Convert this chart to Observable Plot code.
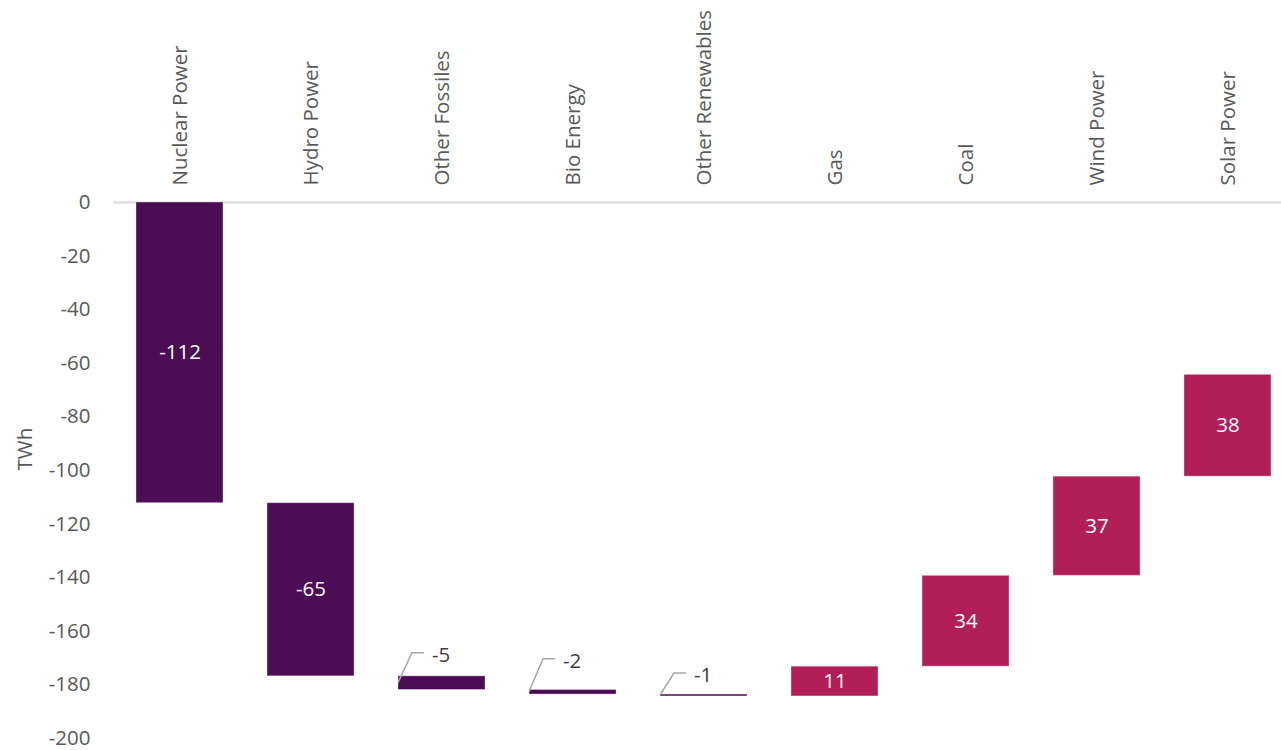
<!DOCTYPE html>
<html>
<head>
<meta charset="utf-8">
<script src="https://cdn.jsdelivr.net/npm/d3@7"></script>
<script src="https://cdn.jsdelivr.net/npm/@observablehq/plot@0.6"></script>
<style>
  html, body { margin: 0; padding: 0; background: #fff; }
  #chart svg { display: block; overflow: visible; }
</style>
</head>
<body>
<div id="chart"></div>
<script>
const categories = ["Nuclear Power", "Hydro Power", "Other Fossiles", "Bio Energy", "Other Renewables", "Gas", "Coal", "Wind Power", "Solar Power"];
const values = [-112.2, -64.6, -5.1, -1.7, -0.7, 11.1, 33.9, 37.0, 38.0];
const yTicks = [0, -20, -40, -60, -80, -100, -120, -140, -160, -180, -200];
const yLabel = "TWh";

// style-only settings (kept apart from the data)
const NEG = "#4b0d53";
const POS = "#b21e58";
const TXT = "#595959";
const FS = 20.5;
const leaderLift = {"Other Fossiles": 30, "Bio Energy": 33, "Other Renewables": 22};

let acc = 0;
const rows = categories.map((c, i) => {
  const start = acc;
  acc += values[i];
  return {cat: c, value: values[i], start, end: acc, mid: (start + acc) / 2, label: String(Math.round(values[i]))};
});
const big = rows.filter(d => Math.abs(d.value) >= 10);
const small = rows.filter(d => Math.abs(d.value) < 10);

function leaders(index, scales) {
  const g = d3.create("svg:g");
  for (const d of small) {
    const x0 = scales.x(d.cat);
    const ym = scales.y(d.mid);
    const ye = ym - leaderLift[d.cat];
    g.append("path")
      .attr("d", `M${x0},${ym}L${x0 + 14},${ye}H${x0 + 26}`)
      .attr("fill", "none")
      .attr("stroke", "#a6a6a6")
      .attr("stroke-width", 1.5);
    g.append("text")
      .attr("x", x0 + 34)
      .attr("y", ye + 2)
      .attr("dy", "0.35em")
      .attr("text-anchor", "start")
      .attr("fill", "#404040")
      .attr("font-size", FS)
      .attr("font-family", "Open Sans")
      .text(d.label);
  }
  return g.node();
}

const chart = Plot.plot({
  width: 1281,
  height: 750,
  marginLeft: 113,
  marginRight: 0,
  marginTop: 202,
  marginBottom: 12,
  style: {fontFamily: "Open Sans", fontSize: FS + "px", color: TXT, background: "#fff"},
  x: {domain: categories, range: [113, 1294], paddingInner: 0.337, paddingOuter: 0.1685},
  y: {domain: [-200, 0]},
  marks: [
    Plot.ruleY([0], {stroke: "#d9d9d9", strokeWidth: 2}),
    Plot.barY(rows, {
      x: "cat", y1: "start", y2: "end",
      fill: d => d.value < 0 ? NEG : POS,
      stroke: "#ffffff", strokeOpacity: 0.35, strokeWidth: 1
    }),
    Plot.text(big, {x: "cat", y: "mid", text: "label", fill: "#ffffff", fontSize: FS}),
    leaders,
    Plot.axisY(yTicks, {tickSize: 0, tickPadding: 23, label: null, fill: TXT, fontSize: FS, tickFormat: d => String(d)}),
    Plot.axisX({anchor: "top", tickRotate: -90, tickSize: 0, tickPadding: 17, label: null, fill: TXT, fontSize: FS}),
    Plot.text([yLabel], {frameAnchor: "left", dx: -88, rotate: -90, fill: TXT, fontSize: FS})
  ]
});
document.getElementById("chart").appendChild(chart);
</script>
</body>
</html>
